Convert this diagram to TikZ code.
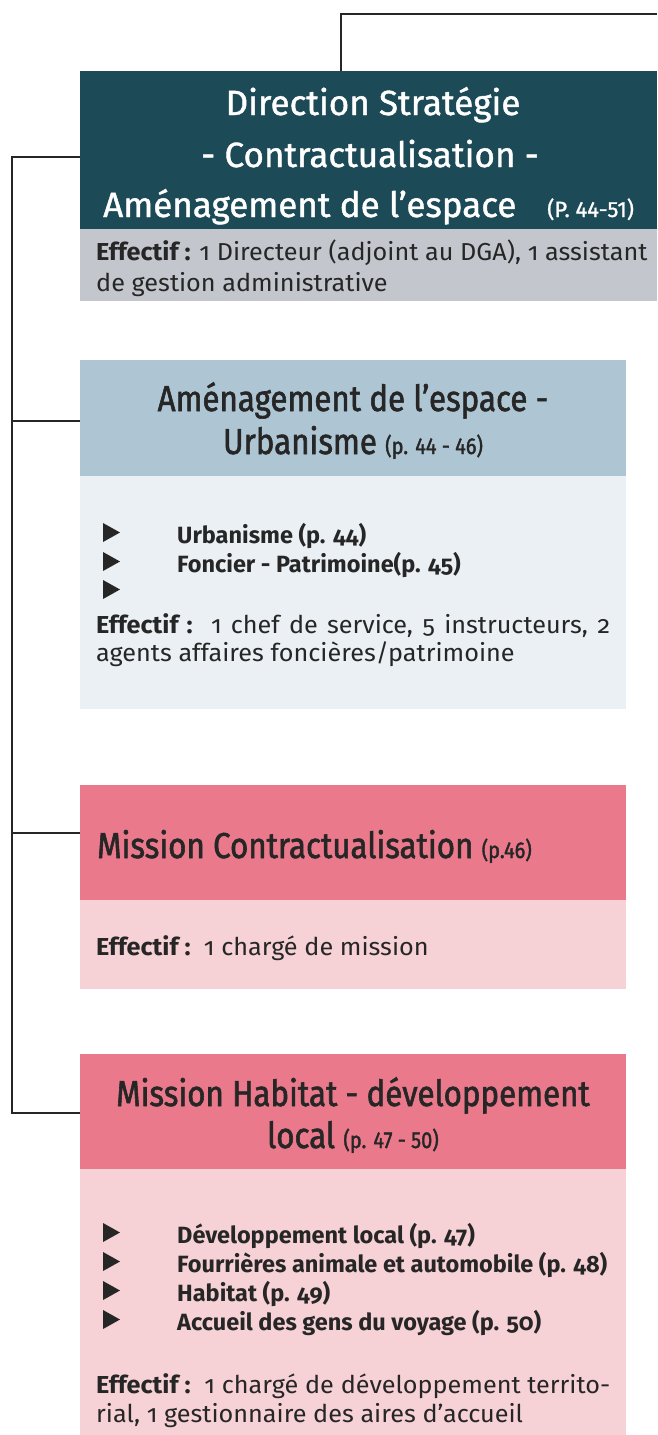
\documentclass[tikz,border=0pt]{standalone}
\usepackage{fontspec}
\setmainfont{Fira Sans}[Numbers=OldStyle]
\newfontfamily\bodyfont{Fira Sans}[Numbers=OldStyle, FakeStretch=1.03]
\newfontfamily\hfont{Fira Sans}[FakeStretch=0.87, FakeBold=1.6]
\newfontfamily\hfontw{Fira Sans}[FakeStretch=1.0, FakeBold=1.2]
\definecolor{dteal}{HTML}{1C4A57}
\definecolor{greyb}{HTML}{C3C7CD}
\definecolor{blueh}{HTML}{AEC6D3}
\definecolor{blueb}{HTML}{EBF0F4}
\definecolor{pinkh}{HTML}{E9798B}
\definecolor{pinkb}{HTML}{F6D1D5}
\definecolor{ink}{HTML}{262626}
\newcommand{\hsm}{\fontsize{23}{24}\selectfont}
\newcommand{\tribul}[1]{\fill[ink] (103,#1-1) -- ++(0,-19) -- ++(17,9.5) -- cycle;}
\tikzset{
  panel/.style={rectangle, inner sep=0pt, outer sep=0pt, draw=none, anchor=north west},
  conn/.style={draw=ink, line width=1.6pt},
  htext/.style={inner sep=0pt, anchor=base, font=\hfont\fontsize{36}{38}\selectfont, text=ink},
  wtext/.style={inner sep=0pt, anchor=base, font=\hfontw\fontsize{35}{38}\selectfont, text=white},
  body/.style={inner sep=0pt, anchor=base west, text=ink, font=\bodyfont\fontsize{24.5}{28}\selectfont},
  bul/.style={inner sep=0pt, anchor=base west, text=ink, font=\bfseries\fontsize{23.5}{28}\selectfont}
}
\begin{document}
\begin{tikzpicture}[x=1pt,y=-1pt]
\useasboundingbox (0,0) rectangle (657,1435);
% panels
\node[panel, fill=dteal, minimum width=577pt, minimum height=158pt] (dir) at (80,71) {};
\node[panel, fill=greyb, minimum width=577pt, minimum height=72pt] (dirb) at (80,229) {};
\node[panel, fill=blueh, minimum width=546pt, minimum height=116pt] (urb) at (80,360) {};
\node[panel, fill=blueb, minimum width=546pt, minimum height=233pt] (urbb) at (80,476) {};
\node[panel, fill=pinkh, minimum width=546pt, minimum height=115pt] (con) at (80,785) {};
\node[panel, fill=pinkb, minimum width=546pt, minimum height=89pt] (conb) at (80,900) {};
\node[panel, fill=pinkh, minimum width=546pt, minimum height=115pt] (hab) at (80,1054) {};
\node[panel, fill=pinkb, minimum width=546pt, minimum height=266pt] (habb) at (80,1169) {};
% connectors
\coordinate (topR) at (657,14);
\coordinate (k1) at (80,157);
\coordinate (k2) at (80,421);
\coordinate (k3) at (80,833);
\coordinate (k4) at (80,1113);
\draw[conn] (dir.north) ++(-27.5,0) |- (topR);
\draw[conn] (k1) -- (12,157) -- (12,1113) -- (k4);
\draw[conn] (12,421) -- (k2);
\draw[conn] (12,833) -- (k3);
% box 1 text
\node[wtext] (d1) at (373,115) {Direction Stratégie};
\node[wtext] (d2) at (370,167) {- Contractualisation -};
\node[wtext, anchor=base west] (d3) at (103,217) {Aménagement de l’espace};
\node[wtext, anchor=base west, font=\hfontw\fontsize{22}{24}\selectfont] (d4) at (547,217) {(P. 44-51)};
\node[body] (db1) at (96,260) {\textbf{Effectif :} 1 Directeur (adjoint au DGA), 1 assistant};
\node[body] (db2) at (96,291) {de gestion administrative};
% box 2
\node[htext] (u1) at (353,411) {Aménagement de l’espace -};
\node[htext] (u2) at (353,454) {Urbanisme {\hsm(p. 44 - 46)}};
\tribul{543}
\tribul{572}
\tribul{600}
\node[bul] (ub1) at (177,543) {Urbanisme (p. 44)};
\node[bul] (ub2) at (177,572) {Foncier - Patrimoine(p. 45)};
\node[body] (ue1) at (96,633) {\makebox[514pt][s]{\textbf{Effectif :}\ \ 1 chef de service, 5 instructeurs, 2}};
\node[body] (ue2) at (96,661) {agents affaires foncières/patrimoine};
% box 3
\node[htext, anchor=base west] (c1) at (97,858) {Mission Contractualisation {\hsm(p.46)}};
\node[body] (ce) at (96,955) {\textbf{Effectif :}\ \ 1 chargé de mission};
% box 4
\node[htext] (h1) at (353,1106) {Mission Habitat - développement};
\node[htext] (h2) at (353,1148) {local {\hsm(p. 47 - 50)}};
\tribul{1243}
\tribul{1272}
\tribul{1301}
\tribul{1330}
\node[bul] (hb1) at (177,1243) {Développement local (p. 47)};
\node[bul] (hb2) at (177,1272) {Fourrières animale et automobile (p. 48)};
\node[bul] (hb3) at (177,1301) {Habitat (p. 49)};
\node[bul] (hb4) at (177,1330) {Accueil des gens du voyage (p. 50)};
\node[body] (he1) at (96,1393) {\makebox[514pt][s]{\textbf{Effectif :}\ \ 1 chargé de développement territo-}};
\node[body] (he2) at (96,1422) {rial, 1 gestionnaire des aires d’accueil};
\end{tikzpicture}
\end{document}
